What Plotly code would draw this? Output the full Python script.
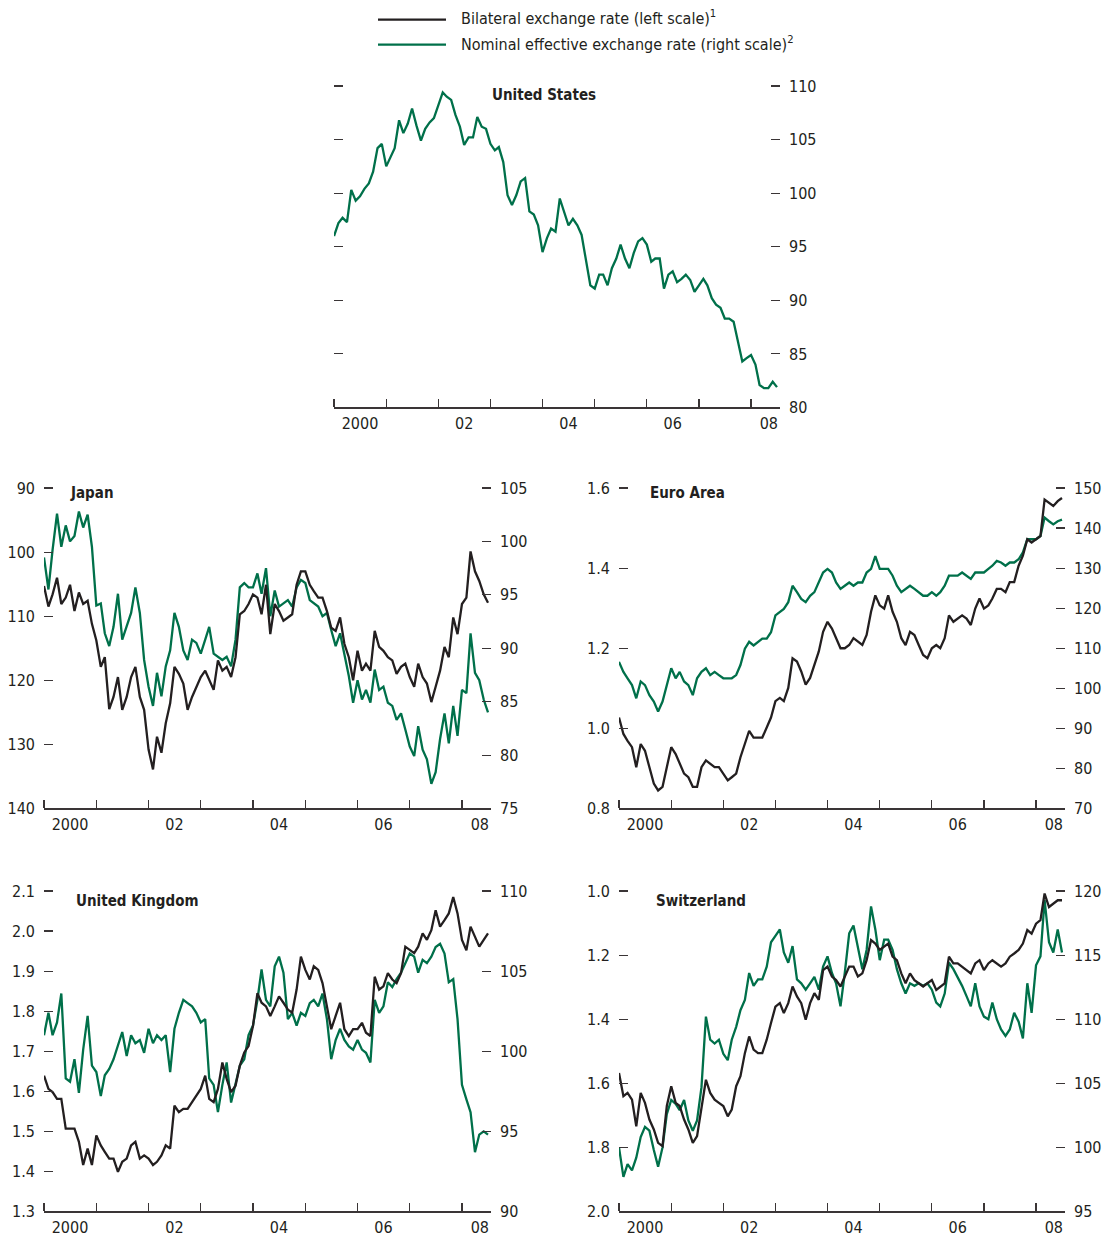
import plotly.graph_objects as go
import pandas as pd

# ---------------- data (monthly readings, Jan 2000 - Jul 2008) ----------------
dates = pd.date_range("2000-01-01", periods=103, freq="MS")

us_neer = [96.0, 97.2, 97.7, 97.3, 100.3, 99.3, 99.7, 100.4, 100.9, 102.0, 104.2, 104.6,
           102.5, 103.4, 104.2, 106.8, 105.6, 106.5, 107.9, 106.3, 104.9, 106.0, 106.6, 107.0,
           108.2, 109.4, 109.0, 108.7, 107.3, 106.2, 104.5, 105.2, 105.2, 107.1, 106.2, 106.0,
           104.6, 104.0, 104.3, 102.9, 99.8, 98.9, 99.8, 101.1, 101.4, 98.3, 98.0, 97.0,
           94.5, 95.8, 96.7, 96.4, 99.5, 98.3, 97.0, 97.6, 97.0, 96.1, 93.6, 91.4,
           91.1, 92.4, 92.4, 91.4, 93.0, 93.9, 95.2, 93.9, 93.0, 94.4, 95.5, 95.8,
           95.2, 93.6, 93.9, 93.9, 91.1, 92.4, 92.7, 91.7, 92.0, 92.4, 91.9, 90.8,
           91.4, 92.0, 91.4, 90.2, 89.6, 89.3, 88.3, 88.3, 88.0, 86.1, 84.3, 84.6,
           84.9, 84.0, 82.1, 81.8, 81.8, 82.4, 81.9]

jp_bilateral = [105.3, 108.5, 106.6, 104.0, 108.1, 107.1, 105.1, 109.2, 106.3, 108.1, 107.6, 111.2,
                113.8, 117.9, 116.4, 124.5, 122.6, 119.5, 124.6, 122.6, 119.5, 117.9, 122.6, 124.6,
                130.8, 133.9, 128.8, 131.3, 126.7, 123.6, 117.9, 119.0, 120.5, 124.6, 122.6, 121.0,
                119.5, 118.5, 120.0, 121.5, 116.9, 118.5, 117.9, 119.5, 116.4, 109.7, 109.2, 108.1,
                106.6, 107.1, 109.7, 105.1, 112.8, 108.1, 109.2, 110.7, 110.2, 109.7, 105.1, 103.0,
                103.0, 105.1, 106.1, 107.1, 107.1, 109.2, 111.8, 112.3, 110.2, 114.3, 116.4, 120.0,
                115.4, 118.5, 117.4, 118.5, 112.3, 114.8, 115.4, 116.4, 116.9, 119.0, 117.9, 117.4,
                119.5, 121.0, 117.4, 119.5, 120.5, 123.4, 121.0, 118.5, 114.8, 116.4, 110.2, 112.8,
                108.1, 107.1, 99.9, 103.0, 104.5, 106.6, 107.9]
jp_neer = [98.5, 95.5, 99.2, 102.6, 99.5, 101.5, 100.0, 100.5, 102.8, 101.3, 102.5, 99.5,
           94.0, 94.2, 91.4, 90.2, 92.0, 95.1, 90.8, 92.0, 93.3, 95.7, 93.3, 88.9,
           86.4, 84.6, 87.7, 85.5, 88.3, 89.8, 93.3, 92.0, 89.8, 88.9, 90.8, 90.5,
           89.5, 90.8, 92.0, 89.5, 89.2, 88.9, 89.2, 88.3, 90.8, 95.7, 96.1, 95.7,
           95.7, 97.0, 95.1, 97.5, 93.0, 95.4, 93.9, 94.2, 94.5, 93.9, 95.7, 96.4,
           96.1, 94.5, 94.2, 93.9, 93.0, 93.3, 91.7, 90.2, 91.4, 89.5, 87.4, 84.9,
           87.0, 85.2, 86.1, 84.9, 88.0, 86.1, 86.4, 84.9, 84.6, 83.3, 83.9, 82.4,
           80.8, 79.9, 82.7, 80.5, 79.6, 77.3, 78.4, 81.5, 83.9, 81.1, 84.6, 81.8,
           86.1, 85.8, 91.4, 87.7, 87.0, 85.2, 84.0]

ea_bilateral = [1.027, 0.986, 0.969, 0.953, 0.903, 0.961, 0.944, 0.903, 0.862, 0.845, 0.854, 0.903,
                0.953, 0.936, 0.911, 0.887, 0.878, 0.854, 0.854, 0.903, 0.920, 0.911, 0.903, 0.903,
                0.887, 0.870, 0.878, 0.887, 0.928, 0.961, 0.994, 0.977, 0.977, 0.977, 1.002, 1.027,
                1.068, 1.076, 1.068, 1.101, 1.175, 1.167, 1.142, 1.109, 1.126, 1.159, 1.192, 1.241,
                1.266, 1.249, 1.225, 1.200, 1.200, 1.208, 1.225, 1.217, 1.208, 1.233, 1.291, 1.332,
                1.307, 1.299, 1.332, 1.291, 1.266, 1.225, 1.208, 1.241, 1.233, 1.208, 1.183, 1.175,
                1.200, 1.208, 1.200, 1.225, 1.282, 1.266, 1.274, 1.282, 1.274, 1.258, 1.299, 1.324,
                1.299, 1.307, 1.324, 1.348, 1.348, 1.340, 1.365, 1.365, 1.406, 1.431, 1.472, 1.464,
                1.472, 1.480, 1.571, 1.563, 1.555, 1.567, 1.575]
ea_neer = [106.6, 104.1, 102.5, 100.8, 97.5, 101.7, 100.8, 98.3, 96.7, 94.2, 96.7, 100.8,
           105.0, 102.5, 104.1, 101.7, 100.8, 98.3, 102.5, 104.1, 105.0, 103.3, 104.1, 103.3,
           102.5, 102.5, 102.5, 103.3, 105.8, 109.9, 111.6, 110.7, 111.6, 112.4, 112.4, 114.0,
           118.2, 119.0, 119.8, 121.5, 125.6, 124.0, 122.3, 121.5, 123.1, 124.0, 126.4, 128.9,
           129.8, 128.9, 126.4, 124.8, 125.6, 126.4, 125.6, 126.4, 126.4, 128.9, 129.8, 133.0,
           129.8, 129.8, 129.8, 128.1, 125.6, 124.0, 124.8, 125.6, 124.8, 124.0, 123.1, 123.1,
           124.0, 123.1, 124.0, 125.6, 128.1, 128.1, 128.1, 128.9, 128.1, 127.3, 128.9, 128.9,
           128.9, 129.8, 130.6, 131.8, 131.4, 130.6, 131.4, 131.4, 132.2, 133.9, 137.2, 137.2,
           137.2, 138.0, 142.6, 141.7, 140.9, 141.7, 142.1]

uk_bilateral = [1.639, 1.606, 1.598, 1.581, 1.581, 1.507, 1.507, 1.507, 1.474, 1.416, 1.457, 1.416,
                1.490, 1.465, 1.449, 1.432, 1.432, 1.399, 1.424, 1.432, 1.465, 1.474, 1.432, 1.440,
                1.432, 1.416, 1.424, 1.440, 1.465, 1.457, 1.564, 1.548, 1.556, 1.556, 1.573, 1.589,
                1.606, 1.639, 1.581, 1.573, 1.606, 1.672, 1.631, 1.598, 1.614, 1.664, 1.697, 1.713,
                1.763, 1.845, 1.821, 1.812, 1.788, 1.812, 1.837, 1.821, 1.804, 1.796, 1.854, 1.936,
                1.903, 1.879, 1.912, 1.903, 1.870, 1.812, 1.755, 1.788, 1.821, 1.755, 1.738, 1.755,
                1.755, 1.771, 1.746, 1.738, 1.886, 1.854, 1.862, 1.895, 1.879, 1.870, 1.895, 1.961,
                1.952, 1.945, 1.961, 1.994, 1.978, 2.002, 2.052, 2.011, 2.027, 2.044, 2.085, 2.044,
                1.978, 1.952, 2.011, 1.986, 1.961, 1.978, 1.994]
uk_neer = [101.0, 102.4, 101.0, 101.8, 103.6, 98.3, 98.1, 99.5, 97.4, 100.1, 102.2, 99.1,
           98.7, 97.2, 98.5, 98.9, 99.5, 100.3, 101.2, 99.7, 101.0, 100.5, 100.7, 99.9,
           101.4, 100.5, 101.0, 100.7, 101.0, 98.7, 101.4, 102.4, 103.2, 103.0, 102.8, 102.4,
           101.8, 102.0, 98.3, 97.9, 96.2, 97.9, 99.3, 96.8, 97.9, 99.1, 99.5, 101.0,
           101.6, 103.2, 105.1, 103.2, 102.8, 105.3, 105.9, 104.9, 102.0, 102.4, 101.6, 102.4,
           102.2, 103.0, 103.2, 102.8, 103.6, 102.0, 99.5, 100.7, 101.4, 100.7, 100.3, 100.1,
           100.7, 100.1, 99.9, 99.3, 103.2, 102.4, 102.8, 104.3, 104.0, 104.5, 104.9, 105.5,
           106.1, 105.9, 104.9, 105.7, 105.5, 105.9, 106.5, 106.7, 106.1, 104.3, 104.5, 102.0,
           97.9, 97.0, 96.2, 93.7, 94.8, 95.0, 94.8]

ch_bilateral = [1.568, 1.640, 1.630, 1.651, 1.734, 1.630, 1.661, 1.713, 1.744, 1.786, 1.796, 1.671,
                1.609, 1.661, 1.671, 1.713, 1.744, 1.786, 1.765, 1.671, 1.589, 1.630, 1.651, 1.661,
                1.671, 1.703, 1.682, 1.609, 1.578, 1.506, 1.454, 1.495, 1.506, 1.506, 1.464, 1.412,
                1.361, 1.350, 1.381, 1.350, 1.298, 1.329, 1.350, 1.402, 1.350, 1.319, 1.340, 1.247,
                1.236, 1.267, 1.278, 1.298, 1.267, 1.236, 1.236, 1.267, 1.257, 1.216, 1.153, 1.164,
                1.184, 1.174, 1.164, 1.205, 1.216, 1.257, 1.288, 1.257, 1.278, 1.288, 1.298, 1.288,
                1.278, 1.309, 1.298, 1.288, 1.205, 1.226, 1.226, 1.236, 1.247, 1.257, 1.226, 1.216,
                1.247, 1.226, 1.216, 1.226, 1.236, 1.226, 1.205, 1.195, 1.184, 1.164, 1.122, 1.133,
                1.102, 1.091, 1.008, 1.050, 1.039, 1.029, 1.029]
ch_neer = [100.0, 97.7, 98.7, 98.2, 99.2, 100.8, 101.6, 101.3, 99.8, 98.5, 100.0, 102.6,
           103.7, 103.4, 102.9, 103.7, 102.1, 101.3, 102.1, 104.7, 110.2, 108.4, 108.1, 108.4,
           107.3, 106.8, 108.4, 109.4, 110.7, 111.5, 113.6, 112.6, 113.1, 113.1, 114.1, 116.0,
           116.5, 117.0, 115.2, 114.4, 115.7, 113.1, 112.8, 112.3, 112.8, 113.3, 112.3, 114.1,
           114.9, 113.6, 112.8, 111.0, 113.6, 116.7, 117.3, 115.7, 113.9, 115.4, 118.8, 117.0,
           114.6, 116.2, 116.2, 115.4, 113.9, 112.8, 112.0, 112.8, 112.6, 112.8, 112.6, 112.8,
           112.3, 111.3, 111.0, 112.0, 114.4, 113.9, 113.3, 112.6, 111.8, 111.0, 112.8, 111.0,
           110.2, 110.0, 111.3, 110.0, 109.2, 108.7, 109.2, 110.5, 109.8, 108.5, 112.8, 110.5,
           114.2, 114.9, 119.3, 116.0, 115.2, 117.0, 115.2]

year_ticks = [f"{y}-01-01" for y in range(2000, 2009)]
label_vals = ["2000-07-01", "2002-07-01", "2004-07-01", "2006-07-01", "2008-05-05"]
label_text = ["2000", "02", "04", "06", "08"]

us_ticks = [80, 85, 90, 95, 100, 105, 110]
jp_left_ticks = [90, 100, 110, 120, 130, 140]
jp_right_ticks = [75, 80, 85, 90, 95, 100, 105]
ea_left_ticks = [0.8, 1.0, 1.2, 1.4, 1.6]
ea_right_ticks = [70, 80, 90, 100, 110, 120, 130, 140, 150]
uk_left_ticks = [1.3, 1.4, 1.5, 1.6, 1.7, 1.8, 1.9, 2.0, 2.1]
uk_right_ticks = [90, 95, 100, 105, 110]
ch_left_ticks = [1.0, 1.2, 1.4, 1.6, 1.8, 2.0]
ch_right_ticks = [95, 100, 105, 110, 115, 120]

# ---------------- style ----------------
FONT = "DejaVu Sans Condensed, Liberation Sans Narrow, Arial Narrow, sans-serif"
INK = "#231f20"
TICKC = "#3a3536"
GREEN = "#00704a"
W, H = 1103, 1237
X_END = "2008-07-22"
TICK_SIZE = 16
LINE_W = 2.3

# the page is shown with a small vertical offset/scale; map target pixel rows
Y_OFF, Y_SCALE = 8.5, 0.983


def py(y):
    """target screen row -> layout paper fraction"""
    return 1 - ((y - Y_OFF) / Y_SCALE) / H


def padded(rng, frac=0.004):
    """extend the top end of a range slightly so the top tick is drawn"""
    lo, hi = rng
    span = hi - lo
    return [lo, hi + span * frac]


panels = [
    dict(title="United States", bil=None, neer=us_neer,
         lrange=[80, 110], lticks=us_ticks, lfmt="",
         rrange=[80, 110], rticks=us_ticks,
         px=(334, 780), py=(85, 407), tpos=(544, 95, "center")),
    dict(title="Japan", bil=jp_bilateral, neer=jp_neer,
         lrange=[140, 90], lticks=jp_left_ticks, lfmt="",
         rrange=[75, 105], rticks=jp_right_ticks,
         px=(44, 491), py=(486, 807), tpos=(68, 492, "left")),
    dict(title="Euro Area", bil=ea_bilateral, neer=ea_neer,
         lrange=[0.8, 1.6], lticks=ea_left_ticks, lfmt=".1f",
         rrange=[70, 150], rticks=ea_right_ticks,
         px=(619, 1065), py=(486, 807), tpos=(648, 492, "left")),
    dict(title="United Kingdom", bil=uk_bilateral, neer=uk_neer,
         lrange=[1.3, 2.1], lticks=uk_left_ticks, lfmt=".1f",
         rrange=[90, 110], rticks=uk_right_ticks,
         px=(44, 491), py=(888, 1209), tpos=(74, 899, "left")),
    dict(title="Switzerland", bil=ch_bilateral, neer=ch_neer,
         lrange=[2.0, 1.0], lticks=ch_left_ticks, lfmt=".1f",
         rrange=[95, 120], rticks=ch_right_ticks,
         px=(619, 1065), py=(888, 1209), tpos=(654, 899, "left")),
]


def ax_name(kind, n):
    return f"{kind}axis" if n == 1 else f"{kind}axis{n}"


def ax_ref(kind, n):
    return kind if n == 1 else f"{kind}{n}"


fig = go.Figure()
layout = dict(
    width=W, height=H,
    margin=dict(l=0, r=0, t=0, b=0),
    paper_bgcolor="white", plot_bgcolor="rgba(0,0,0,0)",
    showlegend=False, hovermode=False,
    font=dict(family=FONT, size=TICK_SIZE, color=INK),
)
annotations = []
shapes = []

ytick_common = dict(ticks="inside", ticklen=9, tickwidth=1.1, tickcolor=TICKC,
                    showline=False, showgrid=False, zeroline=False,
                    ticklabelstandoff=8, fixedrange=True,
                    tickfont=dict(family=FONT, size=TICK_SIZE, color=INK))

for i, p in enumerate(panels, start=1):
    base_n, over_n = i, i + 5
    dx = [p["px"][0] / W, p["px"][1] / W]
    dy = [py(p["py"][1]), py(p["py"][0])]
    layout[ax_name("x", i)] = dict(
        domain=dx, anchor=ax_ref("y", base_n), type="date",
        range=["2000-01-01", X_END],
        showline=True, linecolor=TICKC, linewidth=1.3,
        ticks="", tickmode="array", tickvals=label_vals, ticktext=label_text,
        showgrid=False, zeroline=False, fixedrange=True,
        ticklabelstandoff=1,
        tickfont=dict(family=FONT, size=TICK_SIZE, color=INK),
        minor=dict(tickmode="array", tickvals=year_ticks, ticks="inside",
                   ticklen=8, tickwidth=1.3, tickcolor=TICKC, showgrid=False),
    )
    is_us = p["bil"] is None
    # base axis: right scale (NEER, green)
    layout[ax_name("y", base_n)] = dict(
        domain=dy, anchor=ax_ref("x", i), side="right",
        range=padded(p["rrange"]), tickmode="array", tickvals=p["rticks"],
        mirror="ticks" if is_us else False, **ytick_common)

    fig.add_trace(go.Scatter(
        x=dates, y=p["neer"], mode="lines",
        xaxis=ax_ref("x", i), yaxis=ax_ref("y", base_n),
        line=dict(color=GREEN, width=LINE_W),
        name=f"{p['title']}: Nominal effective exchange rate (right scale)"))

    if not is_us:
        # overlay axis: left scale (bilateral, black)
        layout[ax_name("y", over_n)] = dict(
            overlaying=ax_ref("y", base_n), anchor=ax_ref("x", i), side="left",
            range=padded(p["lrange"]), tickmode="array", tickvals=p["lticks"],
            tickformat=p["lfmt"], **ytick_common)
        fig.add_trace(go.Scatter(
            x=dates, y=p["bil"], mode="lines",
            xaxis=ax_ref("x", i), yaxis=ax_ref("y", over_n),
            line=dict(color=INK, width=LINE_W),
            name=f"{p['title']}: Bilateral exchange rate (left scale)"))

    tx, ty, anc = p["tpos"]
    annotations.append(dict(
        text=f"<b>{p['title']}</b>", x=tx / W, y=py(ty),
        xref="paper", yref="paper", xanchor=anc, yanchor="middle",
        showarrow=False, font=dict(family=FONT, size=15, color=INK)))

# legend (drawn manually to match the original sample length)
legend_items = [
    ("Bilateral exchange rate (left scale)<sup>1</sup>", INK, 20, 18),
    ("Nominal effective exchange rate (right scale)<sup>2</sup>", GREEN, 45, 44),
]
for text, color, ly, ty in legend_items:
    shapes.append(dict(type="line", xref="paper", yref="paper",
                       x0=378 / W, x1=446 / W, y0=py(ly), y1=py(ly),
                       line=dict(color=color, width=2.3)))
    annotations.append(dict(
        text=text, x=459 / W, y=py(ty), xref="paper", yref="paper",
        xanchor="left", yanchor="middle", showarrow=False,
        font=dict(family=FONT, size=16, color=INK)))

layout["annotations"] = annotations
layout["shapes"] = shapes
fig.update_layout(**layout)

fig.write_html("out.html",
               config={"displayModeBar": False, "staticPlot": True},
               post_script="document.body.style.margin='0px';")
